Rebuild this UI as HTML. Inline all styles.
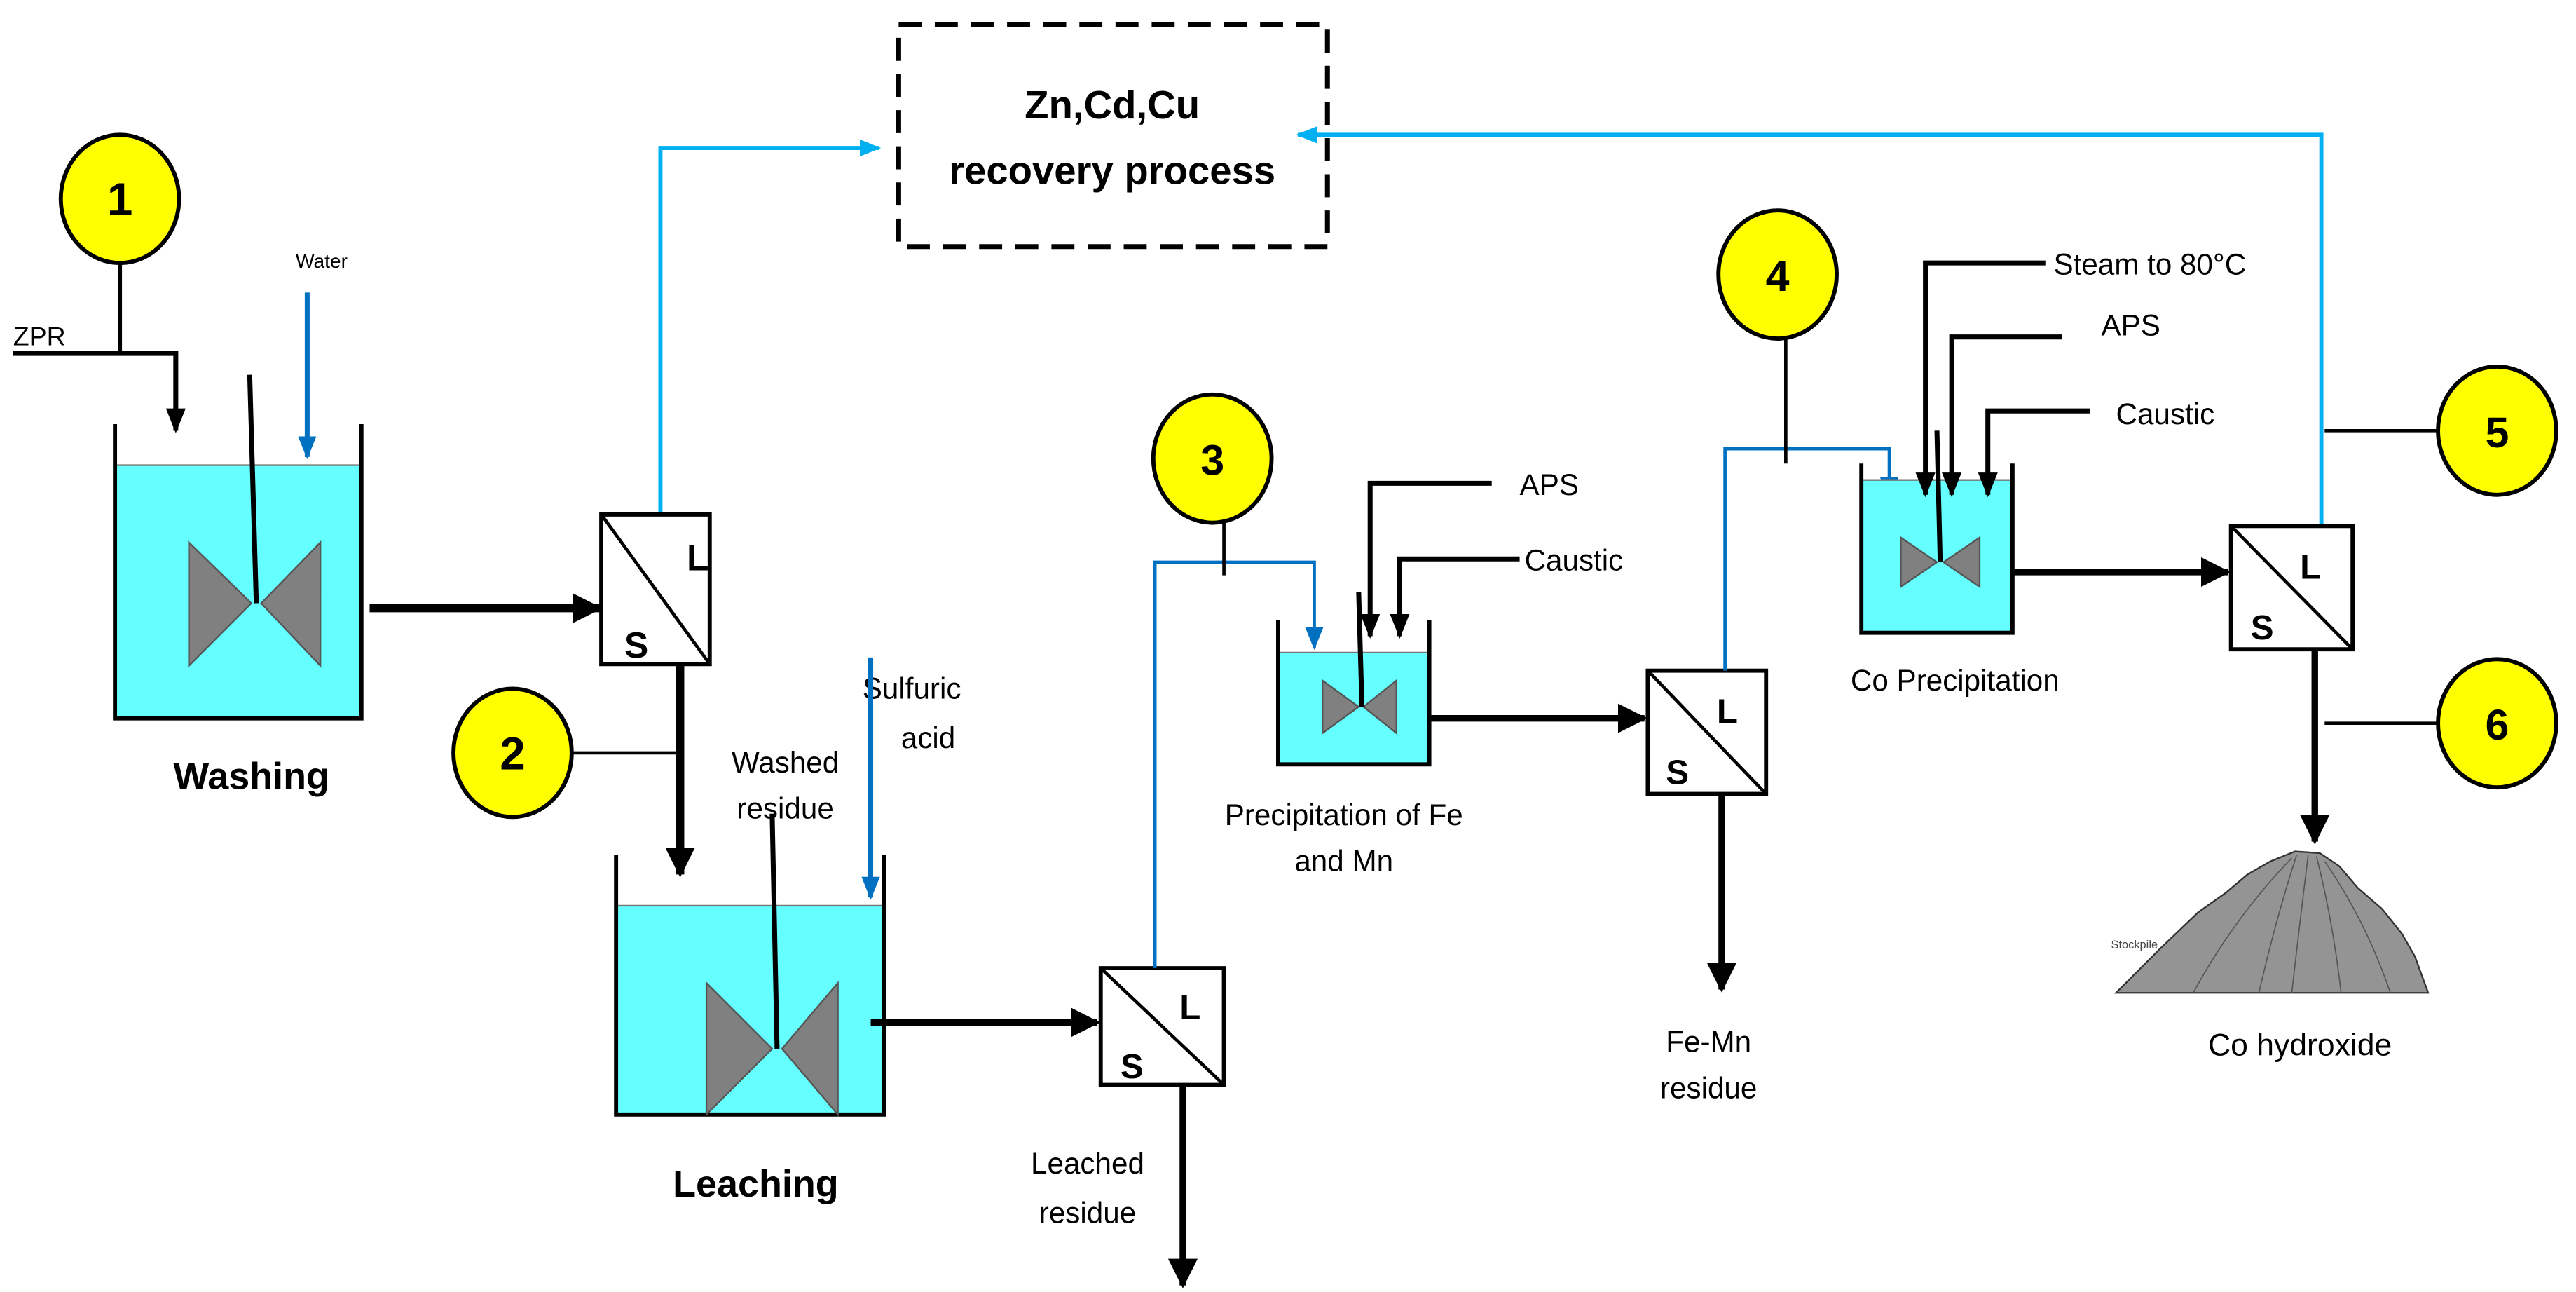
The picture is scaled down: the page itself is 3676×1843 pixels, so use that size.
<!DOCTYPE html>
<html><head><meta charset="utf-8"><style>html,body{margin:0;padding:0;background:#fff}svg{display:block}</style></head>
<body>
<svg width="3676" height="1843" viewBox="0 0 1568 786" preserveAspectRatio="none" xmlns="http://www.w3.org/2000/svg" font-family="Liberation Sans, sans-serif">
<defs>
<marker id="abk" viewBox="0 0 10 10" markerWidth="18" markerHeight="18" refX="9" refY="5" orient="auto" markerUnits="userSpaceOnUse"><path d="M0,0 L10,5 L0,10 z" fill="#000"/></marker>
<marker id="abl" viewBox="0 0 10 10" markerWidth="15" markerHeight="15" refX="9" refY="5" orient="auto" markerUnits="userSpaceOnUse"><path d="M0,1 L10,5 L0,9 z" fill="#000"/></marker>
<marker id="ac" viewBox="0 0 10 10" markerWidth="13" markerHeight="13" refX="9" refY="5" orient="auto" markerUnits="userSpaceOnUse"><path d="M0,1 L10,5 L0,9 z" fill="#00b0f0"/></marker>
<marker id="ad" viewBox="0 0 10 10" markerWidth="14" markerHeight="14" refX="9" refY="5" orient="auto" markerUnits="userSpaceOnUse"><path d="M0,1 L10,5 L0,9 z" fill="#0070c0"/></marker>
</defs>
<rect x="547" y="15" width="261" height="135" fill="none" stroke="#000" stroke-width="3" stroke-dasharray="14,8"/>
<text x="677" y="72" font-size="24" font-weight="bold" text-anchor="middle">Zn,Cd,Cu</text>
<text x="677" y="112" font-size="24" font-weight="bold" text-anchor="middle">recovery process</text>

<polyline points="402,312 402,90 535,90" fill="none" stroke="#00b0f0" stroke-width="2.5" marker-end="url(#ac)"/>
<polyline points="1413,320 1413,82 790,82" fill="none" stroke="#00b0f0" stroke-width="2.5" marker-end="url(#ac)"/>

<polyline points="73,159 73,215" fill="none" stroke="#000" stroke-width="2.5"/>
<polyline points="8,215 107,215 107,262" fill="none" stroke="#000" stroke-width="3" marker-end="url(#abl)"/>
<text x="8" y="210" font-size="16">ZPR</text>
<text x="180" y="163" font-size="12">Water</text>
<line x1="187" y1="178" x2="187" y2="278" stroke="#0070c0" stroke-width="3" marker-end="url(#ad)"/>
<rect x="70" y="283" width="150" height="154" fill="#66ffff"/>
<line x1="70" y1="283" x2="220" y2="283" stroke="#777" stroke-width="1"/>
<polyline points="70,258 70,437 220,437 220,258" fill="none" stroke="#000" stroke-width="2.5"/>
<polygon points="115,330 115,405 153,367" fill="#808080" stroke="#555"/>
<polygon points="195,330 195,405 159,367" fill="#808080" stroke="#555"/>
<line x1="152" y1="228" x2="156" y2="367" stroke="#000" stroke-width="3"/>
<text x="153" y="480" font-size="23" font-weight="bold" text-anchor="middle">Washing</text>
<line x1="225" y1="370" x2="365" y2="370" stroke="#000" stroke-width="5" marker-end="url(#abk)"/>

<rect x="366" y="313" width="66" height="91" fill="#fff" stroke="#000" stroke-width="2.5"/>
<line x1="366" y1="313" x2="432" y2="404" stroke="#000" stroke-width="2"/>
<text x="418" y="347" font-size="22" font-weight="bold">L</text>
<text x="380" y="400" font-size="22" font-weight="bold">S</text>
<line x1="414" y1="404" x2="414" y2="532" stroke="#000" stroke-width="5" marker-end="url(#abk)"/>
<ellipse cx="312" cy="458" rx="36" ry="39" fill="#ffff00" stroke="#000" stroke-width="2.5"/>
<text x="312" y="468" font-size="28" font-weight="bold" text-anchor="middle">2</text>
<line x1="348" y1="458" x2="414" y2="458" stroke="#000" stroke-width="2"/>
<text x="478" y="470" font-size="18" text-anchor="middle">Washed</text>
<text x="478" y="498" font-size="18" text-anchor="middle">residue</text>
<text x="555" y="425" font-size="18" text-anchor="middle">Sulfuric</text>
<text x="565" y="455" font-size="18" text-anchor="middle">acid</text>
<line x1="530" y1="400" x2="530" y2="546" stroke="#0070c0" stroke-width="3" marker-end="url(#ad)"/>

<rect x="375" y="551" width="163" height="127" fill="#66ffff"/>
<line x1="375" y1="551" x2="538" y2="551" stroke="#777"/>
<polyline points="375,520 375,678 538,678 538,520" fill="none" stroke="#000" stroke-width="2.5"/>
<polygon points="430,598 430,678 470,638" fill="#808080" stroke="#555"/>
<polygon points="510,598 510,678 476,638" fill="#808080" stroke="#555"/>
<line x1="470" y1="495" x2="473" y2="638" stroke="#000" stroke-width="3"/>
<text x="460" y="728" font-size="23" font-weight="bold" text-anchor="middle">Leaching</text>
<line x1="530" y1="622" x2="668" y2="622" stroke="#000" stroke-width="4" marker-end="url(#abk)"/>

<rect x="670" y="589" width="75" height="71" fill="#fff" stroke="#000" stroke-width="2.5"/>
<line x1="670" y1="589" x2="745" y2="660" stroke="#000" stroke-width="2"/>
<text x="718" y="620" font-size="21" font-weight="bold">L</text>
<text x="682" y="656" font-size="21" font-weight="bold">S</text>
<line x1="720" y1="660" x2="720" y2="782" stroke="#000" stroke-width="4" marker-end="url(#abk)"/>
<text x="662" y="714" font-size="18" text-anchor="middle">Leached</text>
<text x="662" y="744" font-size="18" text-anchor="middle">residue</text>
<polyline points="703,589 703,342 800,342 800,394" fill="none" stroke="#0070c0" stroke-width="2" marker-end="url(#ad)"/>
<ellipse cx="738" cy="279" rx="36" ry="39" fill="#ffff00" stroke="#000" stroke-width="2.5"/>
<text x="738" y="289" font-size="26" font-weight="bold" text-anchor="middle">3</text>
<line x1="745" y1="318" x2="745" y2="350" stroke="#000" stroke-width="2"/>

<rect x="778" y="397" width="92" height="68" fill="#66ffff"/>
<line x1="778" y1="397" x2="870" y2="397" stroke="#777"/>
<polyline points="778,377 778,465 870,465 870,377" fill="none" stroke="#000" stroke-width="2.5"/>
<polygon points="805,414 805,446 827,430" fill="#808080" stroke="#555"/>
<polygon points="850,414 850,446 830,430" fill="#808080" stroke="#555"/>
<line x1="827" y1="360" x2="829" y2="430" stroke="#000" stroke-width="3"/>
<polyline points="908,294 834,294 834,387" fill="none" stroke="#000" stroke-width="3" marker-end="url(#abl)"/>
<polyline points="925,340 852,340 852,387" fill="none" stroke="#000" stroke-width="3" marker-end="url(#abl)"/>
<text x="925" y="301" font-size="18">APS</text>
<text x="928" y="347" font-size="18">Caustic</text>
<text x="818" y="502" font-size="18" text-anchor="middle">Precipitation of Fe</text>
<text x="818" y="530" font-size="18" text-anchor="middle">and Mn</text>
<line x1="870" y1="437" x2="1001" y2="437" stroke="#000" stroke-width="4" marker-end="url(#abk)"/>

<rect x="1003" y="408" width="72" height="75" fill="#fff" stroke="#000" stroke-width="2.5"/>
<line x1="1003" y1="408" x2="1075" y2="483" stroke="#000" stroke-width="2"/>
<text x="1045" y="440" font-size="21" font-weight="bold">L</text>
<text x="1014" y="477" font-size="21" font-weight="bold">S</text>
<line x1="1048" y1="483" x2="1048" y2="602" stroke="#000" stroke-width="4" marker-end="url(#abk)"/>
<text x="1040" y="640" font-size="18" text-anchor="middle">Fe-Mn</text>
<text x="1040" y="668" font-size="18" text-anchor="middle">residue</text>
<polyline points="1050,408 1050,273 1150,273 1150,303" fill="none" stroke="#0070c0" stroke-width="2" marker-end="url(#ad)"/>
<ellipse cx="1082" cy="167" rx="36" ry="39" fill="#ffff00" stroke="#000" stroke-width="2.5"/>
<text x="1082" y="177" font-size="26" font-weight="bold" text-anchor="middle">4</text>
<line x1="1087" y1="206" x2="1087" y2="282" stroke="#000" stroke-width="2"/>

<rect x="1133" y="292" width="92" height="93" fill="#66ffff"/>
<line x1="1133" y1="292" x2="1225" y2="292" stroke="#777"/>
<polyline points="1133,282 1133,385 1225,385 1225,282" fill="none" stroke="#000" stroke-width="2.5"/>
<polygon points="1157,327 1157,357 1179,342" fill="#808080" stroke="#555"/>
<polygon points="1205,327 1205,357 1183,342" fill="#808080" stroke="#555"/>
<line x1="1179" y1="262" x2="1181" y2="342" stroke="#000" stroke-width="3"/>
<polyline points="1245,160 1172,160 1172,301" fill="none" stroke="#000" stroke-width="3" marker-end="url(#abl)"/>
<polyline points="1255,205 1188,205 1188,301" fill="none" stroke="#000" stroke-width="3" marker-end="url(#abl)"/>
<polyline points="1272,250 1210,250 1210,301" fill="none" stroke="#000" stroke-width="3" marker-end="url(#abl)"/>
<text x="1250" y="167" font-size="18">Steam to 80°C</text>
<text x="1279" y="204" font-size="18">APS</text>
<text x="1288" y="258" font-size="18">Caustic</text>
<text x="1190" y="420" font-size="18" text-anchor="middle">Co Precipitation</text>
<line x1="1225" y1="348" x2="1356" y2="348" stroke="#000" stroke-width="4" marker-end="url(#abk)"/>

<rect x="1358" y="320" width="74" height="75" fill="#fff" stroke="#000" stroke-width="2.5"/>
<line x1="1358" y1="320" x2="1432" y2="395" stroke="#000" stroke-width="2"/>
<text x="1400" y="352" font-size="21" font-weight="bold">L</text>
<text x="1370" y="389" font-size="21" font-weight="bold">S</text>
<line x1="1409" y1="395" x2="1409" y2="512" stroke="#000" stroke-width="4" marker-end="url(#abk)"/>
<ellipse cx="1520" cy="262" rx="36" ry="39" fill="#ffff00" stroke="#000" stroke-width="2.5"/>
<text x="1520" y="272" font-size="26" font-weight="bold" text-anchor="middle">5</text>
<line x1="1415" y1="262" x2="1484" y2="262" stroke="#000" stroke-width="2"/>
<ellipse cx="1520" cy="440" rx="36" ry="39" fill="#ffff00" stroke="#000" stroke-width="2.5"/>
<text x="1520" y="450" font-size="26" font-weight="bold" text-anchor="middle">6</text>
<line x1="1415" y1="440" x2="1484" y2="440" stroke="#000" stroke-width="2"/>

<path d="M1288,604 L1315,577 L1338,555 L1355,543 L1368,532 L1382,524 L1397,518 L1412,519 L1424,527 L1435,540 L1450,553 L1462,568 L1470,582 L1478,604 Z" fill="#949494" stroke="#333" stroke-width="1"/>
<g stroke="#555" stroke-width="0.7" fill="none">
<path d="M1398,520 Q1385,560 1375,604"/><path d="M1405,520 Q1400,560 1395,604"/><path d="M1410,521 Q1420,560 1425,604"/><path d="M1395,522 Q1360,558 1335,604"/><path d="M1415,524 Q1440,560 1455,604"/>
</g>
<text x="1285" y="577" font-size="7" fill="#444">Stockpile</text>
<text x="1400" y="642" font-size="19" text-anchor="middle">Co hydroxide</text>

<ellipse cx="73" cy="121" rx="36" ry="39" fill="#ffff00" stroke="#000" stroke-width="2.5"/>
<text x="73" y="131" font-size="28" font-weight="bold" text-anchor="middle">1</text>
</svg>
</body></html>
